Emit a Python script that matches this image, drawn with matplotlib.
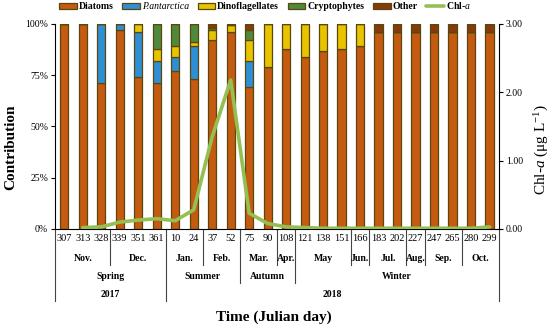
import matplotlib
matplotlib.use("Agg")
import matplotlib.pyplot as plt
import numpy as np

# ---- data ----
days = [307, 313, 328, 339, 351, 361, 10, 24, 37, 52, 75, 90,
        108, 121, 138, 151, 166, 183, 202, 227, 247, 265, 280, 299]
diatoms = [100, 100, 71, 97, 74, 71, 77, 73, 92, 96, 69, 79,
           88, 84, 87, 88, 89, 96, 96, 96, 96, 96, 96, 96]
p_antarctica = [0, 0, 29, 3, 22, 11, 7, 16, 0, 0, 13, 0,
                0, 0, 0, 0, 0, 0, 0, 0, 0, 0, 0, 0]
dinoflagellates = [0, 0, 0, 0, 4, 6, 5, 2, 5, 3.5, 10, 21,
                   12, 16, 13, 12, 11, 0, 0, 0, 0, 0, 0, 0]
cryptophytes = [0, 0, 0, 0, 0, 12, 11, 9, 1, 0, 5, 0,
                0, 0, 0, 0, 0, 0, 0, 0, 0, 0, 0, 0]
other = [0, 0, 0, 0, 0, 0, 0, 0, 2, 0.5, 3, 0,
         0, 0, 0, 0, 0, 4, 4, 4, 4, 4, 4, 4]
chl_a = [np.nan, 0.02, 0.03, 0.10, 0.13, 0.15, 0.12, 0.28, 1.35, 2.18, 0.23, 0.08,
         0.03, 0.02, 0.01, 0.01, 0.01, 0.01, 0.01, 0.01, 0.01, 0.01, 0.01, 0.03]

months = ['Nov.', 'Dec.', 'Jan.', 'Feb.', 'Mar.', 'Apr.', 'May', 'Jun.',
          'Jul.', 'Aug.', 'Sep.', 'Oct.']
month_counts = [3, 3, 2, 2, 2, 1, 3, 1, 2, 1, 2, 2]
seasons = ['Spring', 'Summer', 'Autumn', 'Winter']
season_counts = [6, 4, 3, 11]
years = ['2017', '2018']
year_counts = [6, 18]

series = [('Diatoms', diatoms, '#c55a11'),
          ('P.antarctica', p_antarctica, '#2e8fd6'),
          ('Dinoflagellates', dinoflagellates, '#e8c300'),
          ('Cryptophytes', cryptophytes, '#4f8a3c'),
          ('Other', other, '#843c0c')]

plt.rcParams['font.family'] = ['Liberation Serif', 'DejaVu Serif']
plt.rcParams['mathtext.fontset'] = 'custom'
plt.rcParams['mathtext.rm'] = 'Liberation Serif'
plt.rcParams['mathtext.it'] = 'Liberation Serif:italic'

fig = plt.figure(figsize=(5.5, 3.28), dpi=100)
ax = fig.add_axes([0.1, 0.302, 0.807, 0.625])

x = np.arange(len(days))
bottom = np.zeros(len(days))
handles = []
for name, vals, col in series:
    vals = np.array(vals, dtype=float)
    b = ax.bar(x, vals, 0.45, bottom=bottom, color=col,
               edgecolor='#5a470c', linewidth=0.9, label=name)
    handles.append(b)
    bottom += vals

ax.set_xlim(-0.5, len(days) - 0.5)
ax.set_ylim(0, 100)
ax.set_yticks([0, 25, 50, 75, 100])
ax.set_yticklabels(['0%', '25%', '50%', '75%', '100%'], fontsize=7)
ax.set_xticks(x)
ax.set_xticklabels([str(d) for d in days], fontsize=7.5)
ax.tick_params(axis='x', length=0, pad=4)
ax.tick_params(axis='y', length=3, width=0.8, pad=2)
for s in ['top', 'right']:
    ax.spines[s].set_visible(False)
ax.spines['left'].set_linewidth(0.8)
ax.spines['bottom'].set_linewidth(0.8)

ax2 = ax.twinx()
line, = ax2.plot(x, chl_a, color='#94bf52', lw=2.6, solid_capstyle='round',
                 label=r'Chl-$\mathit{a}$')
ax2.set_ylim(0, 3)
ax2.set_yticks([0, 1, 2, 3])
ax2.set_yticklabels(['0.00', '1.00', '2.00', '3.00'], fontsize=7)
ax2.tick_params(axis='y', length=3, width=0.8, pad=2)
for s in ['top', 'left', 'bottom']:
    ax2.spines[s].set_visible(False)
ax2.spines['right'].set_linewidth(0.8)

# ---- multi-level category axis ----
trans = ax.get_xaxis_transform()
row_month, row_season, row_year = -0.146, -0.234, -0.322
depth_month, depth_season, depth_year = -0.176, -0.263, -0.351


def edges(counts):
    return list(np.cumsum([0] + counts) - 0.5)


month_edges = edges(month_counts)
season_edges = edges(season_counts)
year_edges = edges(year_counts)

for e in month_edges:
    if e in year_edges:
        d = depth_year
    elif e in season_edges:
        d = depth_season
    else:
        d = depth_month
    ax.plot([e, e], [0, d], transform=trans, color='#444444', lw=0.8,
            clip_on=False)

for labels, eds, row in [(months, month_edges, row_month),
                         (seasons, season_edges, row_season),
                         (years, year_edges, row_year)]:
    for i, lab in enumerate(labels):
        xc = (eds[i] + eds[i + 1]) / 2
        ax.text(xc, row, lab, transform=trans, ha='center', va='center',
                fontsize=7, fontweight='bold')

fig.text(0.497, 0.034, 'Time (Julian day)', ha='center', va='center',
         fontsize=11, fontweight='bold')
fig.text(0.02, 0.55, 'Contribution', rotation=90, ha='center', va='center',
         fontsize=11, fontweight='bold')
fig.text(0.985, 0.543, r'Chl-$\mathit{a}$ ($\mathrm{\mu}$g L$^{-1}$)', rotation=90,
         ha='center', va='center', fontsize=11)

leg = fig.legend(handles + [line], [h.get_label() for h in handles] + [line.get_label()],
                 loc='center', bbox_to_anchor=(0.482, 0.982), ncol=6, frameon=False,
                 prop={'size': 7, 'weight': 'bold'}, handlelength=1.8,
                 handleheight=0.55, handletextpad=0.2, columnspacing=0.9,
                 borderpad=0, borderaxespad=0)
for t in leg.get_texts():
    if t.get_text() == 'P.antarctica':
        t.set_fontstyle('italic')
        t.set_fontweight('normal')

fig.savefig('out.png', dpi=100)
